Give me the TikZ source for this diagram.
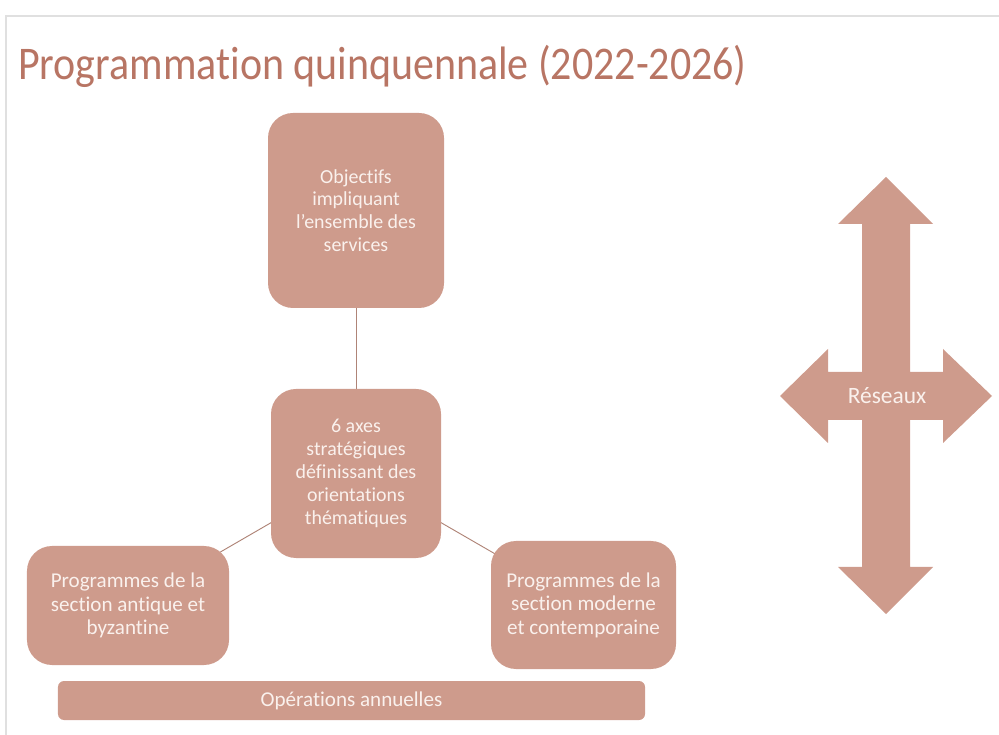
\documentclass[tikz,border=0pt]{standalone}
\usepackage{fontspec}
\setmainfont{Carlito}[Ligatures={NoCommon}]
\usetikzlibrary{backgrounds}
\definecolor{rose}{RGB}{206,155,140}
\definecolor{titre}{RGB}{184,117,100}
\definecolor{clair}{RGB}{250,241,237}
\begin{document}
\begin{tikzpicture}[x=0.3mm,y=-0.3mm,
    bloc/.style={fill=rose,rounded corners=7.5mm,text=clair,align=center,inner sep=0pt,
      font=\fontsize{17}{19.5}\selectfont},
    grand/.style={font=\fontsize{18}{20}\selectfont},
    lien/.style={draw=rose!85!black,line width=0.8pt}]
    \useasboundingbox (0,0) rectangle (999,735);
    \draw[black!12,line width=1.2pt] (6,735) -- (6,16) -- (999,16);
    \node[anchor=base west,text=titre,font=\fontsize{40}{48}\selectfont,inner sep=0pt] (titre) at (18,80)
        {\scalebox{0.895}[1]{Programmation quinquennale (2022-2026)}};
    \node[bloc,minimum width=52.8mm,minimum height=58.5mm] (obj) at (356,210.5)
        {Objectifs\\impliquant\\l’ensemble des\\services};
    \node[bloc,minimum width=51mm,minimum height=50.7mm] (axes) at (356,473.5)
        {6 axes\\stratégiques\\définissant des\\orientations\\thématiques};
    \node[bloc,grand,minimum width=60.6mm,minimum height=35.7mm] (antique) at (128,605.5)
        {Programmes de la\\section antique et\\byzantine};
    \node[bloc,grand,minimum width=55.5mm,minimum height=38.4mm] (moderne) at (583.5,605)
        {Programmes de la\\section moderne\\et contemporaine};
    \node[bloc,grand,rounded corners=1.8mm,minimum width=176.1mm,minimum height=11.7mm] (annuel) at (351.5,700.5)
        {Opérations annuelles};
    \begin{pgfonlayer}{background}
        \draw[lien] (obj.center) -- (axes.center);
        \draw[lien] (axes.center) -- (antique.center);
        \draw[lien] (axes.center) -- (moderne.center);
    \end{pgfonlayer}
    \fill[rose] (886,177) -- (933,224) -- (910,224) -- (910,372) -- (943,372) -- (943,349)
        -- (992,396) -- (943,443) -- (943,420) -- (910,420) -- (910,567) -- (933,567)
        -- (886,614) -- (838,567) -- (862,567) -- (862,420) -- (828,420) -- (828,443)
        -- (780,396) -- (828,349) -- (828,372) -- (862,372) -- (862,224) -- (838,224) -- cycle;
    \node[text=clair,font=\fontsize{20}{24}\selectfont] (reseau) at (887,396) {Réseaux};
\end{tikzpicture}
\end{document}
